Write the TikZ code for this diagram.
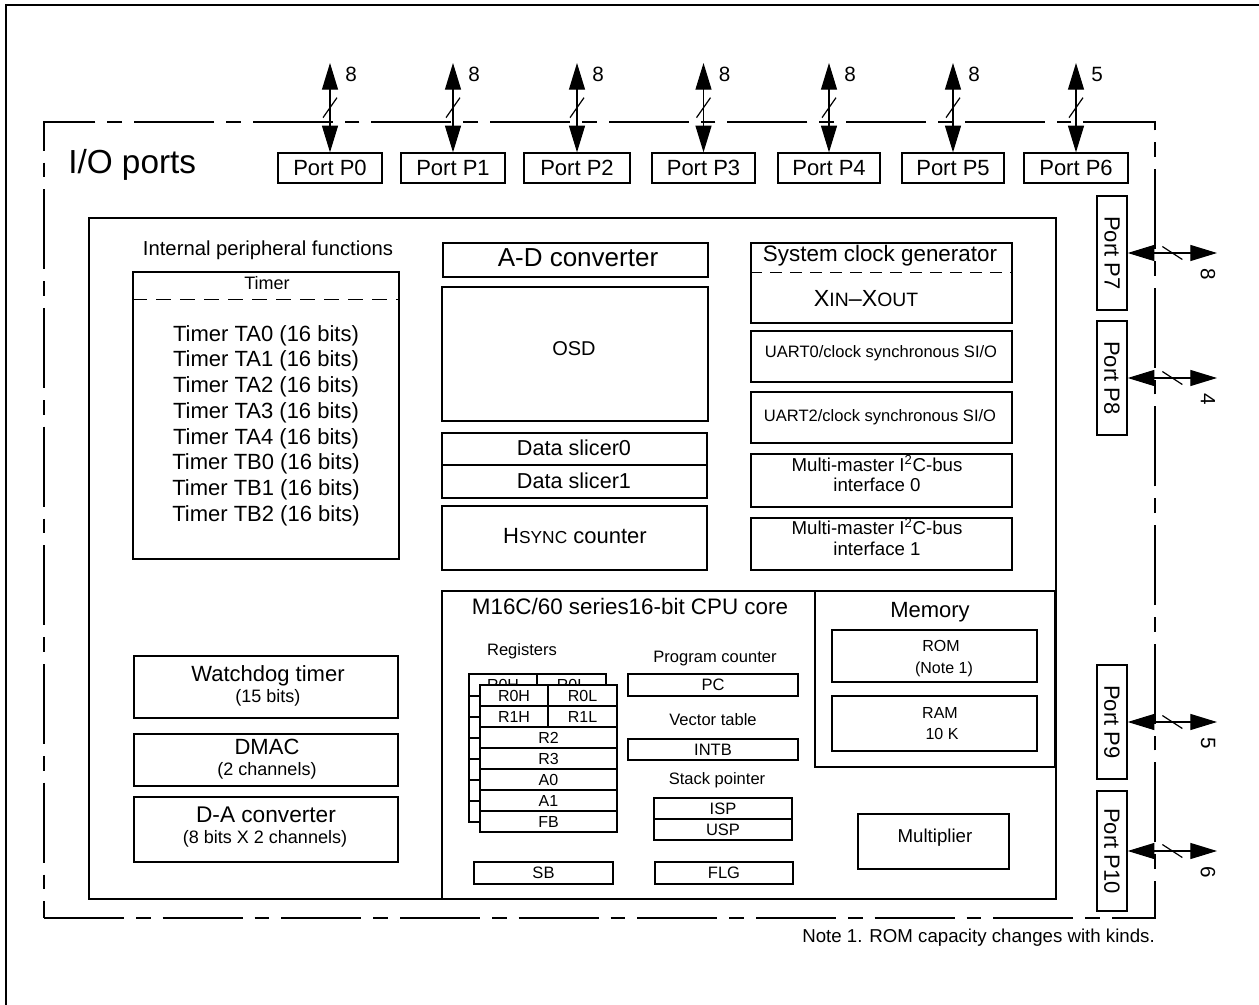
\documentclass[tikz,border=0pt]{standalone}
\usepackage{fontspec}
\setmainfont{Liberation Sans}
\usetikzlibrary{arrows.meta,calc,fit}
\newcommand\fsz[1]{\fontsize{#1}{#1}\selectfont}
\tikzset{
  bx/.style={draw, line width=1pt, inner sep=0pt, fill=white},
  lbl/.style={inner sep=0pt, anchor=base},
  ctr/.style={inner sep=0pt, anchor=center},
  dbl/.style={line width=0.9pt, {Triangle[length=20pt,width=12pt]}-{Triangle[length=20pt,width=12pt]}},
  slash/.style={line width=0.9pt},
  dashsep/.style={line width=1pt, dash pattern=on 11pt off 7pt},
}
\begin{document}
\begin{tikzpicture}[x=0.75pt,y=-0.75pt]
\useasboundingbox (0,0) rectangle (1259,1005);
% outer frame (top and left)
\coordinate (fa) at (6,1005); \coordinate (fb) at (6,5); \coordinate (fc) at (1259,5);
\draw[line width=1.8pt] (fa) -- (fb) -- (fc);

% I/O ports dashed area
\node[draw, line width=1pt, inner sep=0pt, dash pattern=on 60pt off 9pt on 11pt off 9pt, fit={(44,122) (1155,918)}] (io) {};
\node[lbl, anchor=base west, font=\fsz{25}] (iot) at (68,174) {I/O ports};
\node[bx, line width=1.1pt, fit={(89,218) (1056,899)}] (inner) {};

% top ports
\foreach \n/\a/\b/\w in {0/278/382/8,1/401/505/8,2/524/630/8,3/652/755/8,4/778/880/8,5/902/1004/8,6/1024/1128/5}{
  \node[bx, fit={(\a,153) (\b,183)}] (p\n) {};
  \node[ctr, font=\fsz{16.5}] (pt\n) at (p\n.center) {Port P\n};
  \coordinate (t\n) at ({(\a+\b)/2},63);
  \draw[dbl] (t\n) -- (p\n.north);
  \draw[slash] ($(t\n)!0.5!(p\n.north)+(-7,10)$) -- ($(t\n)!0.5!(p\n.north)+(7,-10)$);
  \node[lbl, font=\fsz{15.5}] (n\n) at ({(\a+\b)/2+21},82) {\w};
}

% right ports
\foreach \n/\a/\b/\w in {7/196/310/8,8/321/435/4,9/665/779/5,10/791/911/6}{
  \node[bx, fit={(1097,\a) (1127,\b)}] (p\n) {};
  \node[ctr, font=\fsz{16.5}, rotate=-90] (pt\n) at (p\n.center) {Port P\n};
  \coordinate (r\n) at (1217,{(\a+\b)/2});
  \draw[dbl] (p\n.east) -- (r\n);
  \draw[slash] ($(p\n.east)!0.5!(r\n)+(-10,-6.5)$) -- ($(p\n.east)!0.5!(r\n)+(10,6.5)$);
  \node[ctr, font=\fsz{15.5}, rotate=-90] (n\n) at (1208,{(\a+\b)/2+21}) {\w};
}

% timers
\node[lbl, font=\fsz{15.2}] (ipf) at (268,256) {Internal peripheral functions};
\node[bx, fit={(133,272) (399,559)}] (timer) {};
\draw[dashsep] ($(timer.north west)+(0,28)$) -- ($(timer.north east)+(0,28)$);
\node[lbl, font=\fsz{13.5}] (timert) at (267,290) {Timer};
\foreach \i/\tn/\y in {0/TA0/341,1/TA1/366.7,2/TA2/392.5,3/TA3/418.3,4/TA4/444,5/TB0/469.8,6/TB1/495.6,7/TB2/521.3}
  \node[lbl, font=\fsz{16.5}] (tm\i) at (266,\y) {Timer \tn\ (16 bits)};

% column 2
\node[bx, fit={(443,243) (708,277)}] (adc) {};
\node[lbl, font=\fsz{19.5}] (adct) at (578,267) {A-D converter};
\node[bx, fit={(442,287) (708,421)}] (osd) {};
\node[lbl, font=\fsz{15}] (osdt) at (574,355) {OSD};
\node[bx, fit={(442,433) (707,465)}] (ds0) {};
\node[lbl, font=\fsz{16.2}] (ds0t) at (574,455) {Data slicer0};
\node[bx, fit={(442,465) (707,498)}] (ds1) {};
\node[lbl, font=\fsz{16.2}] (ds1t) at (574,488) {Data slicer1};
\node[bx, fit={(442,506) (707,570)}] (hs) {};
\node[lbl, font=\fsz{16.5}] (hst) at (575,543) {H{\fsz{13}SYNC} counter};

% column 3
\node[bx, fit={(751,243) (1012,323)}] (scg) {};
\draw[dashsep, dash pattern=on 9pt off 6pt] ($(scg.north west)+(0,30)$) -- ($(scg.north east)+(0,30)$);
\node[lbl, font=\fsz{16.8}] (scgt) at (880,262) {System clock generator};
\node[lbl, font=\fsz{17.5}] (xt) at (866,307) {X{\fsz{14.5}IN}--X{\fsz{14.5}OUT}};
\node[bx, fit={(751,331) (1012,382)}] (u0) {};
\node[lbl, font=\fsz{12.4}] (u0t) at (881,358) {UART0/clock synchronous SI/O};
\node[bx, fit={(751,392) (1012,443)}] (u2) {};
\node[lbl, font=\fsz{12.4}] (u2t) at (880,421) {UART2/clock synchronous SI/O};
\node[bx, fit={(751,454) (1012,507)}] (iic0) {};
\node[lbl, font=\fsz{14}] (iic0a) at (877,471) {Multi-master I\textsuperscript{2}C-bus};
\node[lbl, font=\fsz{14}] (iic0b) at (877,491) {interface 0};
\node[bx, fit={(751,518) (1012,570)}] (iic1) {};
\node[lbl, font=\fsz{14}] (iic1a) at (877,534) {Multi-master I\textsuperscript{2}C-bus};
\node[lbl, font=\fsz{14}] (iic1b) at (877,555) {interface 1};

% CPU core
\node[bx, fit={(442,591) (1056,899)}] (cpu) {};
\node[lbl, font=\fsz{16.8}] (cput) at (630,614) {M16C/60 series16-bit CPU core};
\node[lbl, font=\fsz{12.4}] (regt) at (522,655) {Registers};
% back register bank
\node[bx, fit={(469,674) (537,696)}] (b0h) {};
\node[ctr, font=\fsz{12}] (b0ht) at (b0h.center) {R0H};
\node[bx, fit={(537,674) (606,696)}] (b0l) {};
\node[ctr, font=\fsz{12}] (b0lt) at (b0l.center) {R0L};
\foreach \i/\y in {1/696,2/717,3/738,4/759,5/780,6/801}
  \node[bx, fit={(469,\y) (606,\y+21)}] (bk\i) {};
% front register bank
\foreach \nm/\a/\b/\y in {R0H/480/548/685,R0L/548/617/685,R1H/480/548/706,R1L/548/617/706,R2/480/617/727,R3/480/617/748,A0/480/617/769,A1/480/617/790,FB/480/617/811}{
  \node[bx, fit={(\a,\y) (\b,\y+21)}] (f\nm) {};
  \node[ctr, font=\fsz{12}] (f\nm t) at (f\nm.center) {\nm};
}

\node[lbl, font=\fsz{12.4}] (pct) at (715,662) {Program counter};
\node[lbl, font=\fsz{12.4}] (vtt) at (713,725) {Vector table};
\node[lbl, font=\fsz{12.4}] (spt) at (717,784) {Stack pointer};
\foreach \nm/\a/\c/\b/\d in {PC/628/674/798/696,INTB/628/739/798/760,ISP/654/798/792/819,USP/654/819/792/840,SB/474/862/613/884,FLG/655/862/793/884}{
  \node[bx, fit={(\a,\c) (\b,\d)}] (c\nm) {};
  \node[ctr, font=\fsz{12.4}] (c\nm t) at (c\nm.center) {\nm};
}

% memory
\node[bx, fit={(815,591) (1055,767)}] (mem) {};
\node[lbl, font=\fsz{16.5}] (memt) at (930,617) {Memory};
\node[bx, fit={(832,630) (1037,682)}] (rom) {};
\node[lbl, font=\fsz{12}] (roma) at (941,651) {ROM};
\node[lbl, font=\fsz{12}] (romb) at (944,673) {(Note 1)};
\node[bx, fit={(832,696) (1037,751)}] (ram) {};
\node[lbl, font=\fsz{12}] (rama) at (940,718) {RAM};
\node[lbl, font=\fsz{12}] (ramb) at (942,739) {10 K};
\node[bx, fit={(858,814) (1009,869)}] (mul) {};
\node[lbl, font=\fsz{14}] (mult) at (935,842) {Multiplier};

% left bottom blocks
\node[bx, fit={(134,656) (398,718)}] (wdt) {};
\node[lbl, font=\fsz{16.5}] (wdta) at (268,681) {Watchdog timer};
\node[lbl, font=\fsz{13.5}] (wdtb) at (268,702) {(15 bits)};
\node[bx, fit={(134,734) (398,786)}] (dmac) {};
\node[lbl, font=\fsz{16.5}] (dmaca) at (267,754) {DMAC};
\node[lbl, font=\fsz{13.5}] (dmacb) at (267,775) {(2 channels)};
\node[bx, fit={(134,797) (398,862)}] (dac) {};
\node[lbl, font=\fsz{17}] (daca) at (266,822) {D-A converter};
\node[lbl, font=\fsz{13.5}] (dacb) at (265,843) {(8 bits X 2 channels)};

\node[lbl, anchor=base east, font=\fsz{14}] (note) at (1155,942) {Note 1. ROM capacity changes with kinds.};
\end{tikzpicture}
\end{document}
